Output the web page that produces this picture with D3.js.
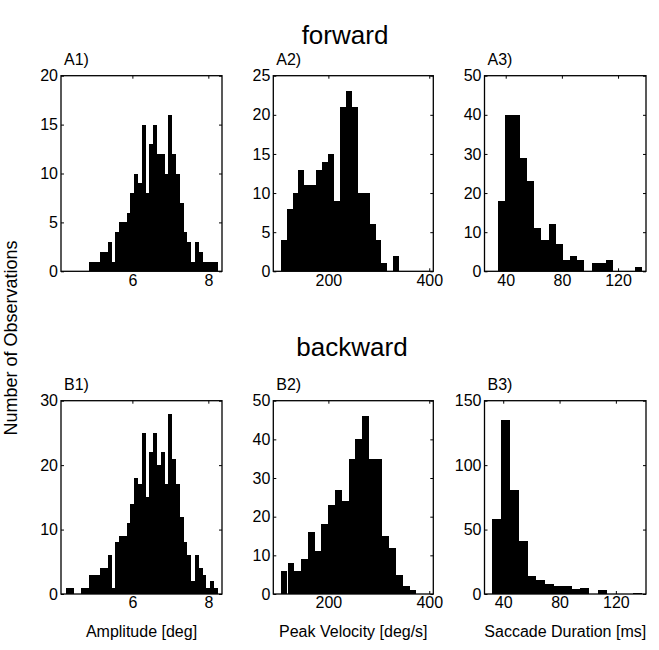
<!DOCTYPE html>
<html>
<head>
<meta charset="utf-8">
<script src="https://cdn.jsdelivr.net/npm/d3@7"></script>
<style>
  body { margin: 0; background: #fff; }
  svg { font-family: "Liberation Sans", Arial, Helvetica, sans-serif; }
  .tick text { font-size: 16px; fill: #000; }
  .tick line { stroke: #000; }
</style>
</head>
<body>
<div id="chart"></div>
<script>
// amplitude bins (deg), 0.1 wide
const ampBinsA = [4.9, 5.0, 5.1, 5.2, 5.3, 5.4, 5.5, 5.6, 5.7, 5.8, 5.9, 6.0, 6.1, 6.2, 6.3, 6.4, 6.5, 6.6, 6.7,
  6.8, 6.9, 7.0, 7.1, 7.2, 7.3, 7.4, 7.5, 7.6, 7.7, 7.8, 7.9, 8.0, 8.1, 8.2];
const ampCountsA = [1, 1, 1, 2, 2, 3, 1, 4, 5, 5, 6, 8, 10, 9, 15, 8, 13, 15, 12,
  12, 10, 16, 12, 10, 7, 4, 3, 1, 3, 2, 1, 1, 1, 1];
const ampBinsB = [4.3, 4.4, 4.5, 4.6, 4.7, 4.8, 4.9, 5.0, 5.1, 5.2, 5.3, 5.4, 5.5, 5.6, 5.7, 5.8, 5.9, 6.0, 6.1, 6.2,
  6.3, 6.4, 6.5, 6.6, 6.7, 6.8, 6.9, 7.0, 7.1, 7.2, 7.3, 7.4, 7.5, 7.6, 7.7, 7.8, 7.9, 8.0, 8.1, 8.2];
const ampCountsB = [1, 1, 0, 0, 1, 1, 3, 3, 3, 4, 4, 6, 1, 8, 9, 9, 11, 14, 18, 17,
  25, 15, 22, 25, 20, 22, 17, 28, 21, 17, 12, 8, 6, 2, 6, 4, 3, 1, 2, 1];

// peak velocity bins (deg/s)
const velBinsA = [111.4, 123.1, 134.9, 146.6, 158.4, 170.1, 181.9, 193.6, 205.4, 217.1,
  228.9, 240.6, 252.4, 264.1, 275.9, 287.6, 299.4, 311.1, 322.9, 334.6];
const velCountsA = [4, 8, 10, 13, 11, 11, 13, 14, 15, 9, 21, 23, 21, 10, 10, 6, 4, 1, 0, 2];
const velBinsB = [112.2, 125.7, 139.1, 152.6, 166.0, 179.5, 192.9, 206.4, 219.8, 233.3,
  246.7, 260.2, 273.6, 287.1, 300.5, 314.0, 327.4, 340.9, 354.3, 367.8];
const velCountsB = [6, 8, 6, 9, 16, 11, 18, 23, 27, 24, 35, 40, 46, 35, 35, 15, 12, 5, 2, 1];

// saccade duration bins (ms)
const durBinsA = [37.3, 42.4, 47.5, 52.6, 57.7, 62.8, 68.0, 73.1, 78.2, 83.3,
  88.4, 93.5, 98.7, 103.8, 108.9, 114.0, 119.1, 124.2, 129.3, 134.5];
const durCountsA = [18, 40, 40, 29, 23, 11, 8, 12, 7, 3, 4, 3, 0, 2, 2, 3, 0, 0, 0, 1];
const durBinsB = [35.4, 41.7, 47.9, 54.2, 60.4, 66.7, 72.9, 79.2, 85.4, 91.7,
  97.9, 104.2, 110.4, 116.7, 122.9, 129.2, 135.4];
const durCountsB = [58, 135, 81, 41, 14, 11, 8, 6, 6, 4, 5, 0, 3, 0, 0, 0, 1];

const rowTitles = ["forward", "backward"];
const xTitles = ["Amplitude [deg]", "Peak Velocity [deg/s]", "Saccade Duration [ms]"];
const yTitle = "Number of Observations";

const width = 659, height = 650;
const cols = [[61, 222], [273.3, 433.3], [484.5, 646]];
const rows = [[75.7, 271.3], [400.7, 594]];

const panels = [
  { label: "A1)", row: 0, col: 0, bins: ampBinsA, counts: ampCountsA, w: 0.1,
    xDom: [4.12, 8.36], xTicks: [6, 8], yMax: 20, yTicks: [0, 5, 10, 15, 20] },
  { label: "A2)", row: 0, col: 1, bins: velBinsA, counts: velCountsA, w: 11.74,
    xDom: [90.8, 408], xTicks: [200, 400], yMax: 25, yTicks: [0, 5, 10, 15, 20, 25] },
  { label: "A3)", row: 0, col: 2, bins: durBinsA, counts: durCountsA, w: 5.12,
    xDom: [24.9, 139.9], xTicks: [40, 80, 120], yMax: 50, yTicks: [0, 10, 20, 30, 40, 50] },
  { label: "B1)", row: 1, col: 0, bins: ampBinsB, counts: ampCountsB, w: 0.1,
    xDom: [4.12, 8.36], xTicks: [6, 8], yMax: 30, yTicks: [0, 10, 20, 30] },
  { label: "B2)", row: 1, col: 1, bins: velBinsB, counts: velCountsB, w: 13.45,
    xDom: [90.8, 408], xTicks: [200, 400], yMax: 50, yTicks: [0, 10, 20, 30, 40, 50] },
  { label: "B3)", row: 1, col: 2, bins: durBinsB, counts: durCountsB, w: 6.25,
    xDom: [26.7, 141.4], xTicks: [40, 80, 120], yMax: 150, yTicks: [0, 50, 100, 150] }
];

const svg = d3.select("#chart")
  .append("svg")
  .attr("width", width)
  .attr("height", height);

panels.forEach(p => {
  const [x0, x1] = cols[p.col];
  const [y0, y1] = rows[p.row];
  const x = d3.scaleLinear().domain(p.xDom).range([x0, x1]);
  const y = d3.scaleLinear().domain([0, p.yMax]).range([y1, y0]);
  const g = svg.append("g");

  g.selectAll("rect.bar")
    .data(p.bins.map((c, i) => ({ c, n: p.counts[i] })).filter(d => d.n > 0))
    .enter()
    .append("rect")
    .attr("class", "bar")
    .attr("x", d => x(d.c - p.w / 2))
    .attr("width", d => x(d.c + p.w / 2) - x(d.c - p.w / 2))
    .attr("y", d => y(d.n))
    .attr("height", d => y(0) - y(d.n))
    .attr("fill", "#000")
    .attr("shape-rendering", "crispEdges");

  // ticks inside on all four sides, labels only bottom/left
  const fmt = d3.format("d");
  const bottom = g.append("g").attr("transform", `translate(0,${y1})`)
    .call(d3.axisBottom(x).tickValues(p.xTicks).tickFormat(fmt).tickSizeInner(-3).tickSizeOuter(0).tickPadding(3));
  const top = g.append("g").attr("transform", `translate(0,${y0})`)
    .call(d3.axisTop(x).tickValues(p.xTicks).tickSizeInner(-3).tickSizeOuter(0).tickFormat(""));
  const left = g.append("g").attr("transform", `translate(${x0},0)`)
    .call(d3.axisLeft(y).tickValues(p.yTicks).tickFormat(fmt).tickSizeInner(-3).tickSizeOuter(0).tickPadding(3));
  const right = g.append("g").attr("transform", `translate(${x1},0)`)
    .call(d3.axisRight(y).tickValues(p.yTicks).tickSizeInner(-3).tickSizeOuter(0).tickFormat(""));
  [bottom, top, left, right].forEach(a => {
    a.select(".domain").remove();
    a.attr("font-family", null).attr("font-size", null);
  });

  g.append("rect")
    .attr("x", x0).attr("y", y0)
    .attr("width", x1 - x0).attr("height", y1 - y0)
    .attr("fill", "none")
    .attr("stroke", "#000")
    .attr("stroke-width", 1.3);

  g.append("text")
    .attr("x", x0 + 3)
    .attr("y", y0 - 11)
    .attr("font-size", 16)
    .text(p.label);
});

svg.selectAll("text.rowTitle")
  .data(rowTitles)
  .enter()
  .append("text")
  .attr("class", "rowTitle")
  .attr("x", (d, i) => i === 0 ? 345 : 352)
  .attr("y", (d, i) => i === 0 ? 44 : 356)
  .attr("text-anchor", "middle")
  .attr("font-size", 26)
  .text(d => d);

svg.selectAll("text.xTitle")
  .data(xTitles)
  .enter()
  .append("text")
  .attr("class", "xTitle")
  .attr("x", (d, i) => (cols[i][0] + cols[i][1]) / 2)
  .attr("y", 637)
  .attr("text-anchor", "middle")
  .attr("font-size", 16)
  .text(d => d);

svg.append("text")
  .attr("transform", "translate(17,338) rotate(-90)")
  .attr("text-anchor", "middle")
  .attr("font-size", 18)
  .text(yTitle);
</script>
</body>
</html>
